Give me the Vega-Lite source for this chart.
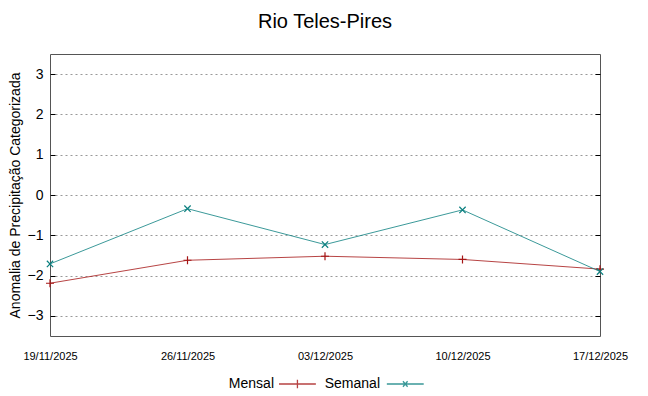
{
  "$schema": "https://vega.github.io/schema/vega-lite/v6.json",
  "width": 550,
  "height": 282,
  "autosize": "none",
  "padding": {"left": 50, "top": 54, "right": 48, "bottom": 60},
  "background": "white",
  "title": {"text": "Rio Teles-Pires", "fontSize": 20, "font": "Liberation Sans", "fontWeight": "normal", "color": "black", "offset": 22, "anchor": "middle"},
  "config": {
    "font": "Liberation Sans",
    "view": {"stroke": "#555555", "strokeWidth": 1}
  },
  "data": {"values": [
    {"data": "2025-11-19", "serie": "Mensal", "valor": -2.19},
    {"data": "2025-11-26", "serie": "Mensal", "valor": -1.62},
    {"data": "2025-12-03", "serie": "Mensal", "valor": -1.52},
    {"data": "2025-12-10", "serie": "Mensal", "valor": -1.60},
    {"data": "2025-12-17", "serie": "Mensal", "valor": -1.84},
    {"data": "2025-11-19", "serie": "Semanal", "valor": -1.71},
    {"data": "2025-11-26", "serie": "Semanal", "valor": -0.34},
    {"data": "2025-12-03", "serie": "Semanal", "valor": -1.23},
    {"data": "2025-12-10", "serie": "Semanal", "valor": -0.37},
    {"data": "2025-12-17", "serie": "Semanal", "valor": -1.90}
  ]},
  "encoding": {
    "x": {"field": "data", "type": "temporal", "timeUnit": "utcyearmonthdate",
      "scale": {"domain": [{"year": 2025, "month": 11, "date": 19, "utc": true}, {"year": 2025, "month": 12, "date": 17, "utc": true}], "nice": false},
      "axis": {"title": null, "format": "%d/%m/%Y", "values": [{"year": 2025, "month": 11, "date": 19, "utc": true}, {"year": 2025, "month": 11, "date": 26, "utc": true}, {"year": 2025, "month": 12, "date": 3, "utc": true}, {"year": 2025, "month": 12, "date": 10, "utc": true}, {"year": 2025, "month": 12, "date": 17, "utc": true}],
        "grid": false, "domain": false, "ticks": false, "labelFontSize": 11, "labelColor": "black", "labelPadding": 14, "labelFlush": false}},
    "color": {"field": "serie", "type": "nominal",
      "scale": {"domain": ["Mensal", "Semanal"], "range": ["#a51515", "#0a7f7f"]}}
  },
  "layer": [
    {"layer": [
      {"mark": {"type": "line", "strokeWidth": 1, "opacity": 0.8}},
      {"transform": [{"filter": "datum.serie == 'Mensal'"}],
        "mark": {"type": "point", "shape": "M-1,0L1,0M0,-1L0,1", "size": 64, "filled": false, "strokeWidth": 1.2, "opacity": 1}},
      {"transform": [{"filter": "datum.serie == 'Semanal'"}],
        "mark": {"type": "point", "shape": "M-1,-1L1,1M-1,1L1,-1", "size": 40, "filled": false, "strokeWidth": 1.2, "opacity": 1}},
      {"transform": [{"filter": "false"}],
        "mark": {"type": "point", "filled": false, "opacity": 1},
        "encoding": {
          "shape": {"field": "serie", "type": "nominal", "scale": {"domain": ["Mensal", "Semanal"], "range": ["M0.65,0L4.65,0M2.65,-0.45L2.65,0.45", "M0.85,0L4.85,0M2.6,-0.3L3.1,0.3M2.6,0.3L3.1,-0.3"]},
            "legend": {"title": null, "orient": "none", "legendX": 213, "legendY": 320, "direction": "horizontal", "symbolSize": 340, "symbolStrokeWidth": 1.3, "labelFontSize": 14, "labelColor": "black", "labelAlign": "right", "labelOffset": -9, "columnPadding": 5}},
          "color": {"field": "serie", "type": "nominal", "legend": {"title": null, "orient": "none", "legendX": 213, "legendY": 320, "direction": "horizontal", "symbolSize": 340, "symbolStrokeWidth": 1.3, "labelFontSize": 14, "labelColor": "black", "labelAlign": "right", "labelOffset": -9, "columnPadding": 5}}
        }}
    ],
    "encoding": {
      "y": {"field": "valor", "type": "quantitative",
        "scale": {"domain": [-3.5, 3.5], "nice": false, "zero": false},
        "axis": {"title": "Anomalia de Precipitação Categorizada", "titleFontSize": 14, "titleFontWeight": "normal", "titleColor": "black", "titlePadding": 5,
          "values": [-3, -2, -1, 0, 1, 2, 3], "labelFontSize": 14, "labelColor": "black", "labelPadding": 12,
          "domain": false, "tickSize": -5, "tickColor": "black",
          "grid": true, "gridDash": [2, 3], "gridColor": "#999999", "gridWidth": 1}}
    }},
    {"mark": {"type": "point", "opacity": 0},
      "encoding": {
        "y": {"field": "valor", "type": "quantitative",
          "scale": {"domain": [-3.5, 3.5], "nice": false, "zero": false},
          "axis": {"orient": "right", "title": null, "labels": false, "values": [-3, -2, -1, 0, 1, 2, 3], "domain": false, "grid": false, "tickSize": -5, "tickColor": "black"}},
        "color": {"value": "white"}
      }}
  ],
  "resolve": {"scale": {"y": "independent"}}
}
